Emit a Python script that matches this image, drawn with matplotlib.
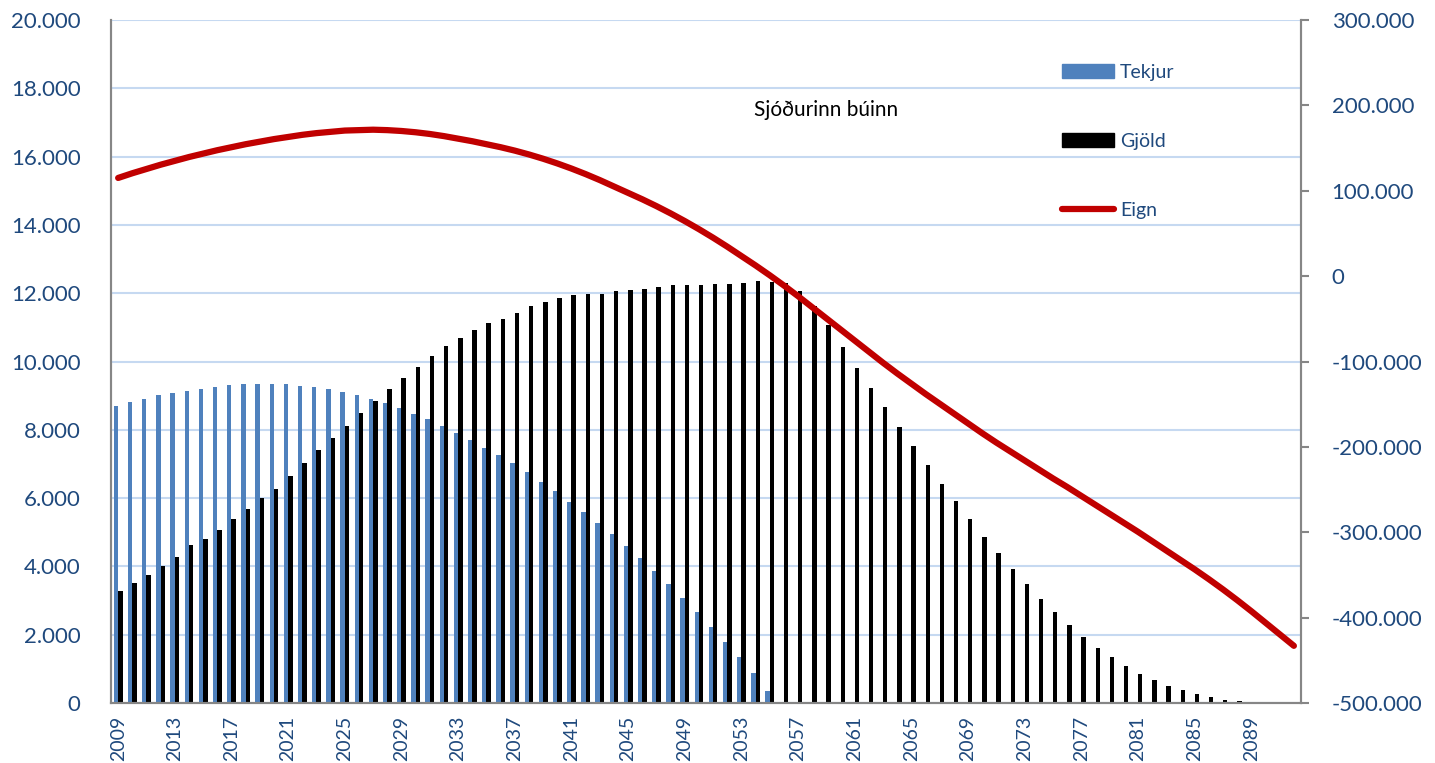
import matplotlib
matplotlib.use('Agg')
import matplotlib.pyplot as plt
from matplotlib.ticker import FuncFormatter
from matplotlib.lines import Line2D
from matplotlib.patches import Patch
import numpy as np

plt.rcParams['font.family'] = ['Lato', 'DejaVu Sans']

# ár
ar = list(range(2009, 2093))

# Tekjur (vinstri ás)
tekjur = [8705, 8813, 8910, 9009, 9077, 9135, 9203, 9261, 9302, 9332,
          9340, 9340, 9332, 9290, 9244, 9185, 9106, 9018, 8892, 8775,
          8638, 8470, 8310, 8125, 7915, 7710, 7476, 7261, 7018, 6754,
          6471, 6198, 5895, 5592, 5280, 4948, 4597, 4246, 3865, 3475,
          3065, 2674, 2235, 1786, 1337, 869, 361, 0, 0, 0,
          0, 0, 0, 0, 0, 0, 0, 0, 0, 0,
          0, 0, 0, 0, 0, 0, 0, 0, 0, 0,
          0, 0, 0, 0, 0, 0, 0, 0, 0, 0,
          0, 0, 0, 0]

# Gjöld (vinstri ás)
gjold = [3289, 3514, 3758, 4002, 4285, 4617, 4812, 5075, 5378, 5680,
         5993, 6276, 6647, 7027, 7408, 7750, 8102, 8482, 8852, 9194,
         9525, 9847, 10151, 10444, 10687, 10912, 11126, 11252, 11428, 11615,
         11750, 11850, 11937, 11966, 11976, 12072, 12102, 12131, 12189, 12228,
         12228, 12228, 12268, 12268, 12306, 12347, 12320, 12289, 12072, 11640,
         11068, 10415, 9818, 9232, 8658, 8081, 7525, 6960, 6421, 5906,
         5388, 4869, 4392, 3915, 3484, 3054, 2656, 2275, 1941, 1619,
         1338, 1083, 858, 673, 507, 372, 264, 184, 100, 55,
         25, 10, 0, 0]

# Eign (hægri ás)
eign = [115000, 120500, 125500, 130500, 135000, 139500, 143500, 147500, 151000, 154500,
        157500, 160500, 163000, 165500, 167500, 169000, 170500, 171000, 171500, 171000,
        170000, 168500, 166500, 164000, 161000, 158000, 154500, 151000, 147000, 142500,
        137500, 132000, 126000, 119500, 112500, 105000, 97500, 90000, 82000, 73500,
        64500, 55000, 45000, 34500, 23500, 12500, 1000, -11000, -23500, -36500,
        -49500, -62500, -75500, -88500, -101500, -114000, -126000, -138000, -149500, -161000,
        -172500, -184000, -195000, -205500, -216000, -226500, -237000, -247000, -257500, -268000,
        -278500, -289000, -299500, -310500, -321500, -332500, -343500, -355000, -367000, -379500,
        -392500, -406000, -419500, -433000]

blar = '#4F81BD'
rautt = '#C00000'
textalitur = '#1F497D'
grid = '#C6D9F1'
asalitur = '#868686'


def punktar(v, pos):
    return f'{int(round(v)):,}'.replace(',', '.')


fig = plt.figure(figsize=(14.35, 7.63), dpi=100)
ax = fig.add_axes([0.0774, 0.0786, 0.8292, 0.8952])

x = np.arange(len(ar))
b = 0.31
ax.bar(x - b / 2, tekjur, width=b, color=blar, zorder=2)
ax.bar(x + b / 2, gjold, width=b, color='black', zorder=2)

ax.set_xlim(-0.5, len(ar) - 0.5)
ax.set_ylim(0, 20000)
ax.set_yticks(range(0, 20001, 2000))
ax.yaxis.set_major_formatter(FuncFormatter(punktar))
ax.grid(axis='y', color=grid, linewidth=1.5)
ax.set_axisbelow(True)

ax.set_xticks(x[::4])
ax.set_xticklabels([str(a) for a in ar[::4]], rotation=90)
ax.tick_params(axis='x', length=0, pad=9, labelsize=14, labelcolor=textalitur)
ax.tick_params(axis='y', length=0, pad=22, labelsize=16, labelcolor=textalitur)

ax.spines['top'].set_visible(False)
for s in ['left', 'bottom', 'right']:
    ax.spines[s].set_color(asalitur)
    ax.spines[s].set_linewidth(1.5)

# Eign á hægri ás
ax2 = ax.twinx()
ax2.plot(x, eign, color=rautt, linewidth=4.5, solid_capstyle='round', zorder=3)
ax2.set_ylim(-500000, 300000)
ax2.set_yticks(range(-500000, 300001, 100000))
ax2.yaxis.set_major_formatter(FuncFormatter(punktar))
ax2.tick_params(axis='y', length=6, width=1.5, color=asalitur, pad=16,
                labelsize=16, labelcolor=textalitur)
ax2.spines['top'].set_visible(False)
for s in ['left', 'bottom', 'right']:
    ax2.spines[s].set_color(asalitur)
    ax2.spines[s].set_linewidth(1.5)

ax.text(50, 17350, 'Sjóðurinn búinn', ha='center', va='center', fontsize=15, color='black')

handles = [Patch(color=blar), Patch(color='black'),
           Line2D([0], [0], color=rautt, linewidth=4.5, solid_capstyle='round')]
ax2.legend(handles, ['Tekjur', 'Gjöld', 'Eign'], loc='upper left',
           bbox_to_anchor=(0.740, 0.916), bbox_transform=fig.transFigure,
           frameon=False, fontsize=14, labelcolor=textalitur,
           handlelength=2.7, handletextpad=0.3, labelspacing=2.66,
           borderpad=0, borderaxespad=0)

plt.savefig('out.png', dpi=100)
